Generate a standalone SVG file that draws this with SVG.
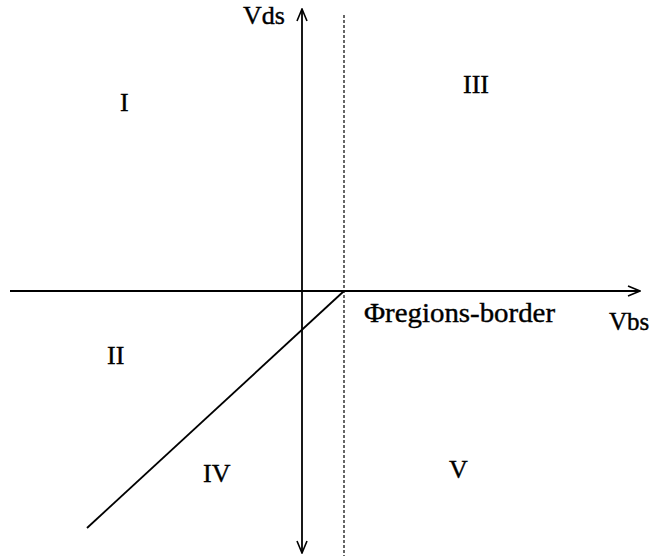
<svg xmlns="http://www.w3.org/2000/svg" width="650" height="560" viewBox="0 0 650 560">
<style>
text{font-family:"Liberation Serif","Times New Roman",serif;font-size:26px;fill:#000;stroke:#000;stroke-width:0.4}
.ax{stroke:#000;stroke-width:1.8;fill:none}
.dash{stroke:#000;stroke-width:1.2;stroke-dasharray:3,2;fill:none}
</style>
<defs>
<marker id="arr" markerWidth="14" markerHeight="12" refX="13" refY="6" orient="auto" markerUnits="userSpaceOnUse">
<path d="M1,1 L13,6 L1,11" fill="none" stroke="#000" stroke-width="1.6"/>
</marker>
</defs>
<rect width="650" height="560" fill="#fff"/>
<g id="connectors">
<line class="ax" x1="10" y1="291" x2="640" y2="291" marker-end="url(#arr)"/>
<line class="ax" x1="302" y1="280" x2="302" y2="9" marker-end="url(#arr)"/>
<line class="ax" x1="302" y1="280" x2="302" y2="553" marker-end="url(#arr)"/>
<line class="dash" x1="344" y1="15" x2="344" y2="556"/>
<line class="ax" stroke-width="1.5" x1="344" y1="291" x2="87" y2="528"/>
</g>
<g id="labels">
<text x="243" y="24">Vds</text>
<text x="120" y="111">I</text>
<text x="463" y="93">III</text>
<text x="107" y="364">II</text>
<text x="203" y="482">IV</text>
<text x="449" y="478">V</text>
<text x="364" y="322" style="font-size:28px" textLength="191" lengthAdjust="spacingAndGlyphs">Φregions-border</text>
<text x="609" y="330" style="font-size:25px">Vbs</text>
</g>
</svg>
